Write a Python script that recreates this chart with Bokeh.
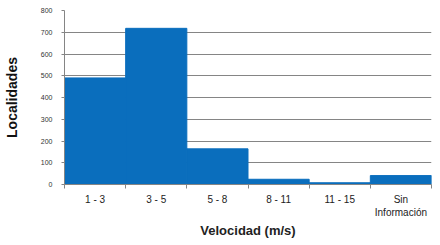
from bokeh.plotting import figure
from bokeh.models import FixedTicker, Range1d
from bokeh.embed import file_html
from bokeh.resources import INLINE

categories = ["1 - 3", "3 - 5", "5 - 8", "8 - 11", "11 - 15", "Sin\nInformación"]
localidades = [490, 718, 164, 24, 8, 41]
y_ticks = [0, 100, 200, 300, 400, 500, 600, 700, 800]

centers = [i + 0.5 for i in range(len(categories))]
bounds = list(range(len(categories) + 1))

p = figure(width=432, height=240, output_backend="svg", toolbar_location=None,
           x_range=Range1d(0, len(categories)), y_range=Range1d(0, 800),
           min_border_left=62, min_border_right=1, min_border_top=10, min_border_bottom=0)
p.outline_line_color = None
p.background_fill_color = "white"
p.border_fill_color = "white"

p.vbar(x=centers, top=localidades, width=1.0, bottom=0,
       fill_color="#0a6ebd", line_color="#0a6ebd")

FONT = "Liberation Sans"
GRAY = "#858585"

# x axis
p.xaxis.ticker = FixedTicker(ticks=centers, minor_ticks=bounds)
p.xaxis.major_label_overrides = {c: lab for c, lab in zip(centers, categories)}
p.xaxis.major_tick_out = 0
p.xaxis.major_tick_in = 0
p.xaxis.minor_tick_out = 4
p.xaxis.minor_tick_in = 0
p.xaxis.minor_tick_line_color = GRAY
p.xaxis.axis_line_color = GRAY
p.xaxis.major_label_text_font = FONT
p.xaxis.major_label_text_font_size = "10px"
p.xaxis.major_label_text_color = "#222222"
p.xaxis.major_label_standoff = 5
p.xaxis.axis_label = "Velocidad (m/s)"
p.xaxis.axis_label_text_font = FONT
p.xaxis.axis_label_text_font_style = "bold"
p.xaxis.axis_label_text_font_size = "13px"
p.xaxis.axis_label_text_color = "#222222"
p.xaxis.axis_label_standoff = 2

# y axis
p.yaxis.ticker = FixedTicker(ticks=y_ticks)
p.yaxis.major_tick_out = 3
p.yaxis.major_tick_in = 0
p.yaxis.minor_tick_out = 0
p.yaxis.minor_tick_in = 0
p.yaxis.major_tick_line_color = GRAY
p.yaxis.axis_line_color = GRAY
p.yaxis.major_label_text_font = FONT
p.yaxis.major_label_text_font_size = "7px"
p.yaxis.major_label_text_color = "#333333"
p.yaxis.major_label_standoff = 9
p.yaxis.axis_label = "Localidades"
p.yaxis.axis_label_text_font = FONT
p.yaxis.axis_label_text_font_style = "bold"
p.yaxis.axis_label_text_font_size = "14px"
p.yaxis.axis_label_text_color = "#111111"
p.yaxis.axis_label_standoff = 18

p.xgrid.grid_line_color = None
p.ygrid.grid_line_color = GRAY
p.ygrid.grid_line_width = 1

open("out.html", "w").write(file_html(p, INLINE))
